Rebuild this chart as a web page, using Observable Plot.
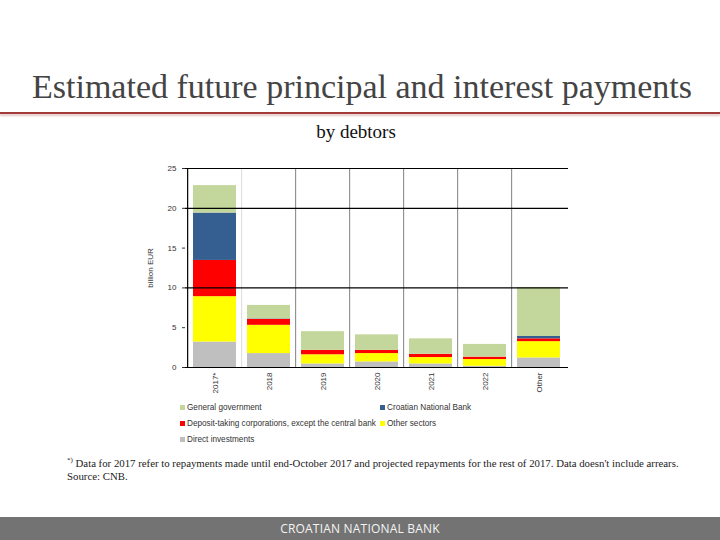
<!DOCTYPE html>
<html>
<head>
<meta charset="utf-8">
<script src="https://cdn.jsdelivr.net/npm/d3@7"></script>
<script src="https://cdn.jsdelivr.net/npm/@observablehq/plot@0.6"></script>
<style>
  html, body { margin: 0; padding: 0; background: #fff; }
  #page { position: relative; width: 720px; height: 540px; overflow: hidden; background: #fff; }
  .title { position: absolute; left: 0; width: 724px; top: 68px; text-align: center;
    font-family: "Liberation Serif", "Times New Roman", serif; font-size: 34px; line-height: 38px; color: #444; white-space: nowrap; }
  .rule { position: absolute; left: 0; top: 112px; width: 720px; height: 2px; background: #a23a3a;
    box-shadow: 0 2px 2px rgba(160, 60, 60, 0.3); }
  .subtitle { position: absolute; left: 0; width: 712px; top: 122px; text-align: center;
    font-family: "Liberation Serif", "Times New Roman", serif; font-size: 19px; line-height: 20px; color: #111; }
  #chart { position: absolute; left: 140px; top: 158px; }
  .legend { position: absolute; left: 180px; top: 402px; font-family: "Liberation Sans", Arial, sans-serif;
    font-size: 8.2px; color: #333; }
  .legend .item { position: absolute; white-space: nowrap; height: 12px; line-height: 12px; }
  .legend .sw { display: inline-block; width: 5px; height: 5px; margin-right: 2px; vertical-align: 0px; }
  .foot { position: absolute; left: 67px; top: 454px; font-family: "Liberation Serif", "Times New Roman", serif;
    font-size: 10.8px; line-height: 13px; color: #222; white-space: nowrap; }
  .bar { position: absolute; left: 0; top: 517px; width: 720px; height: 23px; background: #737373;
    color: #f4f4f4; text-align: center; font-family: "Open Sans", "Liberation Sans", sans-serif;
    font-size: 12px; line-height: 23px; letter-spacing: 0.2px; }
</style>
</head>
<body>
<div id="page">
  <div class="title">Estimated future principal and interest payments</div>
  <div class="rule"></div>
  <div class="subtitle">by debtors</div>
  <div id="chart"></div>
  <div class="legend" id="legend"></div>
  <div class="foot"><sup style="font-size:7px">*)</sup> Data for 2017 refer to repayments made until end-October 2017 and projected repayments for the rest of 2017. Data doesn't include arrears.<br>Source: CNB.</div>
  <div class="bar">CROATIAN NATIONAL BANK</div>
</div>
<script>
// ---- data ----
const categories = ["2017*", "2018", "2019", "2020", "2021", "2022", "Other"];
const sectors = ["Direct investments", "Other sectors", "Deposit-taking corporations, except the central bank", "Croatian National Bank", "General government"];
const sectorColors = ["#bfbfbf", "#ffff00", "#ff0000", "#355f91", "#c3d69b"];
const directInvestments = [3.2, 1.75, 0.45, 0.7, 0.45, 0.15, 1.2];
const otherSectors = [5.7, 3.55, 1.15, 1.05, 0.8, 0.85, 2.05];
const depositTaking = [4.55, 0.75, 0.55, 0.4, 0.4, 0.3, 0.35];
const croatianNationalBank = [5.95, 0.05, 0, 0, 0, 0, 0.3];
const generalGovernment = [3.45, 1.7, 2.35, 1.95, 1.95, 1.6, 6.15];
const yTicks = [0, 5, 10, 15, 20, 25];
const gridLines = [0, 10, 20, 25];
const legendOrder = ["General government", "Croatian National Bank", "Deposit-taking corporations, except the central bank", "Other sectors", "Direct investments"];

const seriesValues = [directInvestments, otherSectors, depositTaking, croatianNationalBank, generalGovernment];
const table = [];
categories.forEach((c, i) => {
  sectors.forEach((s, j) => table.push({category: c, sector: s, value: seriesValues[j][i]}));
});

// ---- layout ----
const W = 440, H = 245, mL = 45, mR = 12, mT = 10, mB = 36;
const step = (W - mL - mR) / categories.length;

const chart = Plot.plot({
  width: W, height: H,
  marginLeft: mL, marginRight: mR, marginTop: mT, marginBottom: mB,
  style: {fontFamily: "'Liberation Sans', Arial, sans-serif", fontSize: "8px", color: "#333", background: "transparent"},
  x: {domain: categories, paddingInner: 0.2, paddingOuter: 0.1, label: null},
  y: {domain: [0, 25], label: null},
  color: {domain: sectors, range: sectorColors},
  marks: [
    Plot.ruleX(categories.slice(2), {dx: -step / 2, y1: 0, y2: 25, stroke: "#808080", strokeWidth: 1}),
    Plot.ruleX(categories.slice(1, 2), {dx: -step / 2, y1: 0, y2: 25, stroke: "#dcdcdc", strokeWidth: 1}),
    Plot.barY(table, {x: "category", y: "value", fill: "sector", order: sectors, inset: 0}),
    Plot.ruleY(gridLines, {stroke: "#000", strokeWidth: 1.2}),
    Plot.ruleX(categories.slice(0, 1), {dx: -step / 2, y1: 0, y2: 25, stroke: "#000", strokeWidth: 1.2}),
    Plot.axisY({ticks: yTicks, tickSize: 3, tickPadding: 6, label: "billion EUR", labelAnchor: "center", labelOffset: 38, labelArrow: "none"}),
    Plot.axisX({tickSize: 0, tickPadding: 5, tickRotate: -90})
  ]
});
document.getElementById("chart").appendChild(chart);

// ---- legend ----
const legend = document.getElementById("legend");
const pos = [[0, 0], [200, 0], [0, 16], [200, 16], [0, 32]];
legendOrder.forEach((name, k) => {
  const div = document.createElement("div");
  div.className = "item";
  div.style.left = pos[k][0] + "px";
  div.style.top = pos[k][1] + "px";
  const sw = document.createElement("span");
  sw.className = "sw";
  sw.style.background = sectorColors[sectors.indexOf(name)];
  div.appendChild(sw);
  div.appendChild(document.createTextNode(name));
  legend.appendChild(div);
});
</script>
</body>
</html>
